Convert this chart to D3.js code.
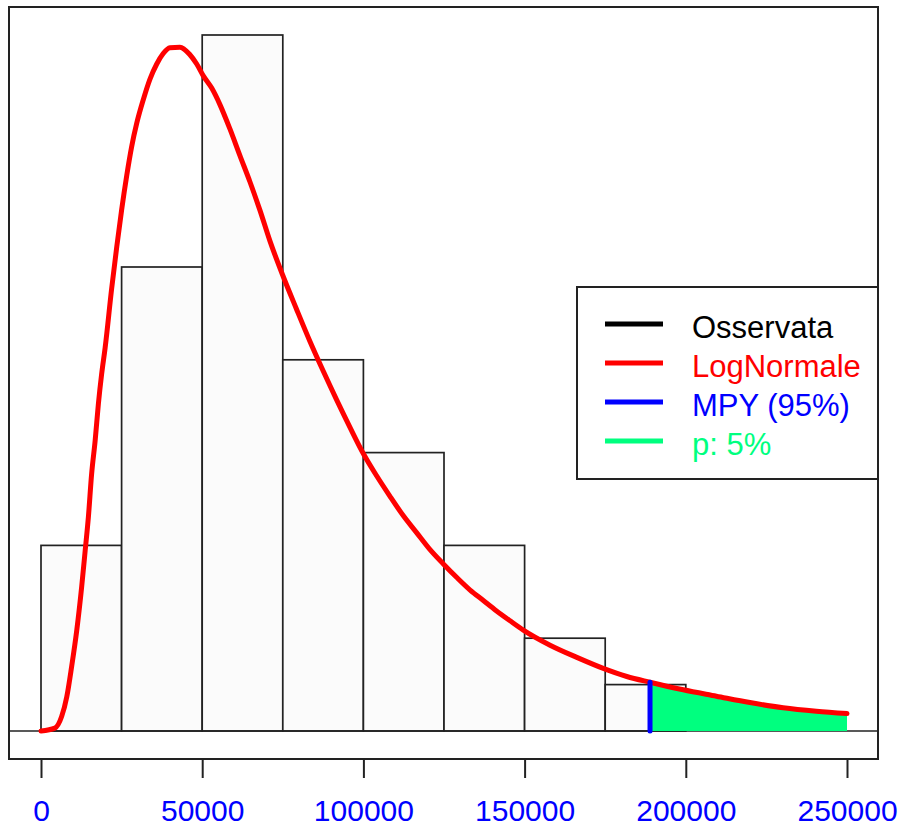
<!DOCTYPE html>
<html>
<head>
<meta charset="utf-8">
<script src="https://cdn.jsdelivr.net/npm/d3@7"></script>
<style>
  body { margin: 0; background: #fff; }
  svg { display: block; font-family: "Liberation Sans", Arial, sans-serif; }
</style>
</head>
<body>
<svg width="902" height="830"></svg>
<script>
// histogram data (bins of 25000)
const binEdges = [0, 25000, 50000, 75000, 100000, 125000, 150000, 175000, 200000];
const binCounts = [4, 10, 15, 8, 6, 4, 2, 1];

// fitted lognormal density (density x 1e-6)
const curveX = [0, 4300, 6400, 8000, 9500, 11100, 12600, 13700, 14700, 15700, 16800, 17800,
  18800, 19900, 21900, 23500, 25000, 26600, 28100, 29700, 31700, 33800, 35900, 37900, 40000,
  43100, 46200, 48300, 50300, 53000, 55500, 58600, 61700, 64800, 67900, 71000, 75100, 79200,
  83400, 87500, 91700, 95800, 100000, 104100, 108200, 112400, 116500, 120600, 124800, 128900,
  133100, 137200, 141300, 145500, 149600, 157900, 166200, 174400, 181700, 188900, 199200,
  209500, 219900, 230200, 240500, 250000];
const curveDensity = [0, 0.05, 0.25, 0.59, 1.11, 1.74, 2.48, 3.11, 3.69, 4.43, 5.01, 5.64,
  6.15, 6.61, 7.62, 8.35, 8.98, 9.58, 10.07, 10.48, 10.88, 11.24, 11.50, 11.68, 11.78,
  11.79, 11.66, 11.50, 11.30, 11.08, 10.80, 10.38, 9.92, 9.47, 8.98, 8.45, 7.84, 7.28,
  6.72, 6.21, 5.71, 5.24, 4.78, 4.40, 4.05, 3.71, 3.42, 3.13, 2.88, 2.65,
  2.43, 2.25, 2.07, 1.90, 1.74, 1.48, 1.27, 1.08, 0.94, 0.84, 0.71,
  0.60, 0.49, 0.40, 0.34, 0.30];

const mpyValue = 188900;
const tickValues = [0, 50000, 100000, 150000, 200000, 250000];
const legendLabels = ['Osservata', 'LogNormale', 'MPY (95%)', 'p: 5%'];
const legendColors = ['black', 'red', 'blue', '#00FF7F'];

const svg = d3.select('svg');
const box = { left: 9, right: 878, top: 7, bottom: 759 };

const total = d3.sum(binCounts);
const bins = binCounts.map((c, i) => ({
  x0: binEdges[i],
  x1: binEdges[i + 1],
  density: c / (total * (binEdges[i + 1] - binEdges[i])) * 1e6
}));
const curve = curveX.map((x, i) => ({ x, y: curveDensity[i] }));

const xScale = d3.scaleLinear()
  .domain([0, 250000])
  .range([41, 847]);

const yScale = d3.scaleLinear()
  .domain([0, d3.max(bins, d => d.density)])
  .range([731, 35]);

// bars
svg.append('g').selectAll('rect').data(bins)
  .enter().append('rect')
    .attr('x', d => xScale(d.x0))
    .attr('y', d => yScale(d.density))
    .attr('width', d => xScale(d.x1) - xScale(d.x0))
    .attr('height', d => yScale(0) - yScale(d.density))
    .attr('fill', '#fbfbfb')
    .attr('stroke', '#222')
    .attr('stroke-width', 1.7);

// baseline
svg.append('line')
  .attr('x1', box.left).attr('x2', box.right)
  .attr('y1', yScale(0)).attr('y2', yScale(0))
  .attr('stroke', '#222').attr('stroke-width', 1.7);

// tail area (p: 5%)
const area = d3.area()
  .x(d => xScale(d.x))
  .y0(yScale(0))
  .y1(d => yScale(d.y))
  .curve(d3.curveMonotoneX);

svg.append('path')
  .datum(curve.filter(d => d.x >= mpyValue))
  .attr('d', area)
  .attr('fill', '#00FF7F');

// lognormal curve
const line = d3.line()
  .x(d => xScale(d.x))
  .y(d => yScale(d.y))
  .curve(d3.curveMonotoneX);

svg.append('path')
  .datum(curve)
  .attr('d', line)
  .attr('fill', 'none')
  .attr('stroke', 'red')
  .attr('stroke-width', 5)
  .attr('stroke-linejoin', 'round')
  .attr('stroke-linecap', 'round');

// MPY line
const mpyDensity = curve.find(d => d.x === mpyValue).y;
svg.append('line')
  .attr('x1', xScale(mpyValue)).attr('x2', xScale(mpyValue))
  .attr('y1', yScale(0)).attr('y2', yScale(mpyDensity))
  .attr('stroke', 'blue')
  .attr('stroke-width', 5)
  .attr('stroke-linecap', 'round');

// plot box
svg.append('rect')
  .attr('x', box.left).attr('y', box.top)
  .attr('width', box.right - box.left)
  .attr('height', box.bottom - box.top)
  .attr('fill', 'none')
  .attr('stroke', '#222')
  .attr('stroke-width', 2);

// x axis
const xAxis = d3.axisBottom(xScale)
  .tickValues(tickValues)
  .tickFormat(d3.format('d'))
  .tickSize(19)
  .tickPadding(22);

const xAxisG = svg.append('g')
  .attr('transform', `translate(0, ${box.bottom})`)
  .call(xAxis);
xAxisG.select('.domain').remove();
xAxisG.selectAll('.tick line').attr('stroke', '#222').attr('stroke-width', 2);
xAxisG.selectAll('.tick text')
  .attr('fill', 'blue')
  .attr('font-size', 30)
  .attr('font-family', '"Liberation Sans", Arial, sans-serif');

// legend
const legend = svg.append('g');
legend.append('rect')
  .attr('x', 577).attr('y', 287)
  .attr('width', box.right - 577)
  .attr('height', 192)
  .attr('fill', 'white')
  .attr('stroke', '#222')
  .attr('stroke-width', 2);

const rows = legend.selectAll('.row').data(legendLabels)
  .enter().append('g')
    .attr('class', 'row')
    .attr('transform', (d, i) => `translate(0, ${324 + i * 39})`);

rows.append('line')
  .attr('x1', 605).attr('x2', 663)
  .attr('stroke', (d, i) => legendColors[i])
  .attr('stroke-width', 5);

rows.append('text')
  .attr('x', 692)
  .attr('y', 14)
  .attr('font-size', 31)
  .attr('fill', (d, i) => legendColors[i])
  .text(d => d);
</script>
</body>
</html>
